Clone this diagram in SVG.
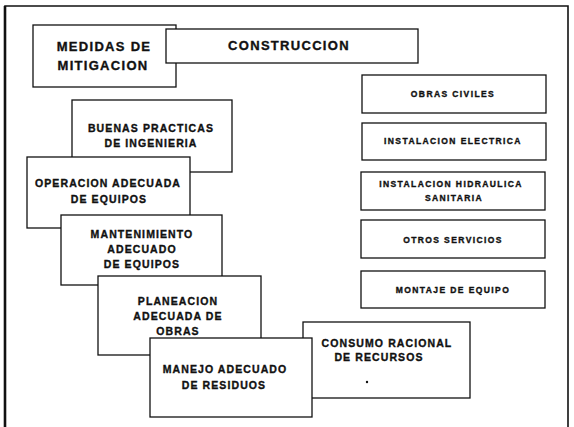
<svg xmlns="http://www.w3.org/2000/svg" width="574" height="427" viewBox="0 0 574 427">
<style>
.box{fill:#fff;stroke:#111;stroke-width:1.3}
.t{font-family:"Liberation Sans",Arial,sans-serif;font-weight:bold;fill:#111;stroke:#111;stroke-width:0.35;text-anchor:middle}
.L{font-size:13px;letter-spacing:1.3px}
.M{font-size:10.5px;letter-spacing:1.1px}
.S{font-size:8.5px;letter-spacing:1.4px}
</style>
<rect width="574" height="427" fill="#fff"/>
<g id="frame">
<path d="M5,440 V6 H568 V440" fill="none" stroke="#111" stroke-width="1.6"/>
<line x1="5" y1="6" x2="5" y2="440" stroke="#111" stroke-width="2.6"/>
</g>
<g id="connectors"></g>
<g id="medidas">
<rect class="box" x="33" y="25" width="143" height="62"/>
<text class="t L" x="104" y="51">MEDIDAS DE</text>
<text class="t L" x="103" y="70">MITIGACION</text>
</g>
<g id="construccion">
<rect class="box" x="166" y="29" width="252" height="34"/>
<text class="t L" x="289" y="50">CONSTRUCCION</text>
</g>
<g id="obras-civiles">
<rect class="box" x="362" y="75" width="184" height="38"/>
<text class="t S" x="453" y="97">OBRAS CIVILES</text>
</g>
<g id="instalacion-electrica">
<rect class="box" x="362" y="123" width="184" height="37"/>
<text class="t S" x="453" y="144">INSTALACION ELECTRICA</text>
</g>
<g id="instalacion-hidraulica">
<rect class="box" x="361" y="172" width="184" height="38"/>
<text class="t S" x="451" y="187">INSTALACION HIDRAULICA</text>
<text class="t S" x="454" y="201">SANITARIA</text>
</g>
<g id="otros-servicios">
<rect class="box" x="361" y="220" width="184" height="38"/>
<text class="t S" x="453" y="243">OTROS SERVICIOS</text>
</g>
<g id="montaje-equipo">
<rect class="box" x="361" y="271" width="184" height="37"/>
<text class="t S" x="453" y="293">MONTAJE DE EQUIPO</text>
</g>
<g id="buenas-practicas">
<rect class="box" x="72" y="100" width="160" height="72"/>
<text class="t M" x="151" y="132">BUENAS PRACTICAS</text>
<text class="t M" x="151" y="147">DE INGENIERIA</text>
</g>
<g id="operacion-equipos">
<rect class="box" x="27" y="157" width="163" height="71"/>
<text class="t M" x="108" y="187">OPERACION ADECUADA</text>
<text class="t M" x="109" y="203">DE EQUIPOS</text>
</g>
<g id="mantenimiento-equipos">
<rect class="box" x="61" y="215" width="161" height="70"/>
<text class="t M" x="142" y="238">MANTENIMIENTO</text>
<text class="t M" x="142" y="253">ADECUADO</text>
<text class="t M" x="142" y="268">DE EQUIPOS</text>
</g>
<g id="planeacion-obras">
<rect class="box" x="98" y="276" width="163" height="79"/>
<text class="t M" x="178" y="305">PLANEACION</text>
<text class="t M" x="178" y="320">ADECUADA DE</text>
<text class="t M" x="178" y="335">OBRAS</text>
</g>
<g id="consumo-recursos">
<rect class="box" x="303" y="322" width="167" height="76"/>
<text class="t M" x="387" y="347">CONSUMO RACIONAL</text>
<text class="t M" x="379" y="361">DE RECURSOS</text>
<circle cx="367" cy="382" r="1.2" fill="#111"/>
</g>
<g id="manejo-residuos">
<rect class="box" x="150" y="338" width="162" height="79"/>
<text class="t M" x="225" y="373">MANEJO ADECUADO</text>
<text class="t M" x="224" y="389">DE RESIDUOS</text>
</g>
</svg>
